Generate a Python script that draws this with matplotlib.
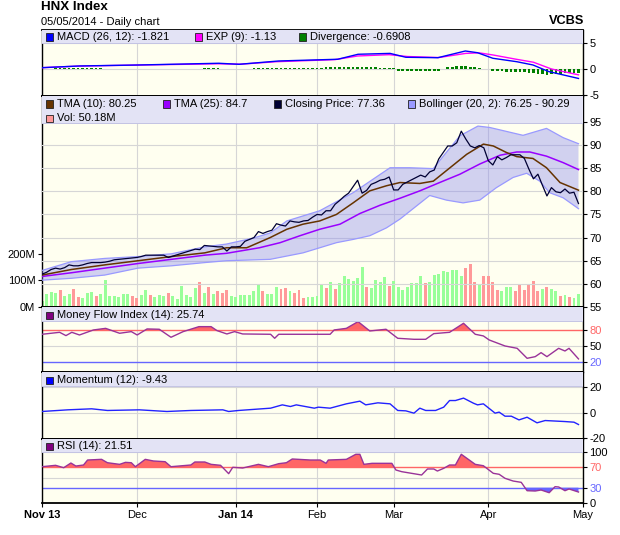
import numpy as np
import matplotlib
matplotlib.use("Agg")
import matplotlib.pyplot as plt
from matplotlib.patches import Rectangle

plt.rcParams['font.family'] = ['Liberation Sans', 'DejaVu Sans']
plt.rcParams['axes.unicode_minus'] = False

# ---- donnees ----
month_labels = ["Nov 13", "Dec", "Jan 14", "Feb", "Mar", "Apr", "May"]
month_pos = [0, 21, 43, 61, 78, 99, 120]
bold_months = ["Nov 13", "Jan 14"]

close = [62.1, 62.5, 63.1, 63.4, 63.2, 63.5, 64.1, 63.9, 63.9, 64.1,
         64.4, 64.6, 64.6, 64.6, 64.7, 64.9, 65.2, 65.3, 65.4, 65.5,
         65.6, 65.7, 65.9, 66.2, 66.2, 66.2, 66.2, 66.2, 65.7, 66.0,
         66.3, 66.6, 66.9, 67.2, 67.5, 67.4, 68.3, 68.2, 68.1, 68.0,
         68.0, 67.1, 68.0, 68.0, 68.1, 69.2, 69.6, 70.0, 71.3, 70.9,
         71.3, 71.6, 73.0, 72.7, 72.5, 73.6, 73.4, 73.3, 73.6, 73.7,
         74.4, 75.0, 74.9, 75.8, 75.8, 77.2, 78.0, 78.9, 79.6, 81.0,
         82.4, 79.6, 80.2, 81.5, 81.9, 82.4, 82.6, 83.1, 80.3, 80.3,
         81.5, 82.0, 82.5, 83.0, 83.5, 83.1, 84.2, 84.6, 87.0, 88.4,
         89.8, 89.8, 90.5, 93.0, 91.3, 89.8, 89.4, 89.9, 89.4, 86.6,
         85.7, 87.5, 86.8, 87.3, 87.9, 87.9, 87.9, 87.1, 84.8, 82.7,
         83.7, 81.3, 79.0, 80.8, 79.9, 79.7, 80.5, 79.6, 79.8, 77.36]

# volume en millions
volume = [23, 49, 58, 52, 64, 43, 49, 68, 39, 34, 54, 55, 41, 49, 102, 41, 41, 38, 49, 49,
          41, 34, 45, 64, 45, 38, 45, 41, 53, 41, 30, 79, 45, 38, 72, 94, 53, 75, 49, 60,
          53, 64, 41, 38, 45, 45, 45, 60, 82, 60, 50, 50, 75, 69, 72, 60, 54, 64, 34, 38,
          37, 41, 83, 72, 94, 69, 89, 117, 107, 98, 109, 151, 75, 72, 101, 94, 113, 79, 98, 75,
          64, 75, 89, 89, 117, 89, 94, 121, 125, 136, 132, 140, 140, 117, 148, 162, 94, 83, 117, 117,
          94, 64, 60, 75, 75, 60, 83, 64, 86, 98, 60, 68, 75, 68, 60, 41, 45, 38, 34, 50.18]
# u = hausse (vert), d = baisse (rouge)
vol_dir = ("uuuuduudduuuduuuuuuudduuduuuduuuuuudududdd"
           "uuuuuuuduuudduddduuuududuuuuuuduuuuduuuu"
           "uuuduuuuuuuudddudddduuudddddduduudud")

tma10_x = [0, 6.5, 13.9, 21.3, 28.7, 36.1, 40.9, 45.4, 50.6, 54.3, 57.9, 61.6, 65.3, 69.0,
           72.7, 76.4, 79.4, 83.8, 86.8, 90.5, 94.2, 97.9, 100.1, 103.0, 105.3, 108.9, 111.9, 114.9, 119]
tma10_y = [61.9, 63.1, 64.1, 65.0, 65.9, 66.7, 67.8, 67.8, 70.0, 71.8, 72.9, 73.6, 75.0, 77.5,
           80.1, 81.2, 81.9, 81.7, 82.2, 85.1, 88.0, 90.2, 89.8, 88.4, 87.5, 87.1, 85.1, 81.9, 80.25]

tma25_x = [0, 6.5, 13.9, 21.3, 28.7, 36.1, 40.9, 48.2, 52.8, 57.2, 61.6, 66.1, 70.5, 75.0,
           79.4, 83.8, 88.2, 92.7, 97.1, 101.6, 105.3, 108.2, 111.9, 115.6, 119]
tma25_y = [61.6, 62.4, 63.4, 64.4, 65.3, 66.2, 66.6, 67.8, 68.9, 70.4, 71.8, 72.9, 75.2, 77.0,
           78.5, 80.1, 81.9, 83.7, 85.9, 87.8, 88.5, 88.5, 87.6, 86.2, 84.7]

boll_up_x = [0, 6.5, 13.9, 21.3, 28.7, 36.1, 40.9, 46.9, 50.6, 54.3, 61.6, 69.0, 77.2, 81.6,
             86.8, 89.0, 92.7, 96.7, 99.3, 106.7, 111.9, 115.6, 119]
boll_up_y = [62.9, 64.8, 65.5, 65.9, 66.5, 68.0, 68.6, 69.9, 71.0, 73.6, 75.8, 79.7, 85.1, 85.1,
             84.9, 87.6, 92.0, 94.1, 93.8, 92.1, 93.6, 91.6, 90.29]
boll_lo_x = [0, 6.5, 13.9, 21.3, 28.7, 36.1, 40.9, 50.6, 57.9, 65.3, 69.0, 72.7, 76.4, 79.4,
             86.0, 89.7, 93.4, 97.1, 100.8, 104.5, 107.5, 110.4, 112.6, 115.6, 119]
boll_lo_y = [60.8, 61.2, 61.9, 63.4, 63.9, 64.6, 65.0, 65.3, 66.7, 68.9, 69.6, 70.4, 72.1, 74.0,
             79.1, 78.1, 77.5, 78.1, 80.8, 83.0, 83.9, 82.2, 79.7, 78.6, 76.25]

macd_x = [0, 8.3, 21.5, 39.2, 43.7, 52.5, 65.6, 70.1, 77.2, 80.7, 87.8, 93.9, 96.6, 100, 105.3,
          108.9, 112.4, 119]
macd_y = [0.25, 0.58, 0.77, 1.1, 0.9, 1.54, 1.87, 2.83, 3.0, 2.25, 2.17, 3.46, 3.13, 2.06, 1.4,
          0.77, -0.5, -1.821]
exp_x = [0, 8, 21, 39, 44, 52, 65, 70, 77, 81, 88, 94, 97, 100, 105, 109, 113, 119]
exp_y = [0.25, 0.55, 0.75, 1.0, 0.92, 1.4, 1.8, 2.5, 2.75, 2.4, 2.2, 3.0, 3.1, 2.7, 1.9, 1.3, 0.0, -1.13]
divergence = [0, 0, 0, 0.2, 0.2, 0.2, 0.2, 0.2, 0.2, 0.2, 0.2, 0.2, 0.2, 0.2, 0, 0, 0, 0, 0, 0,
              0, 0, 0, 0, 0, 0, 0, 0, 0, 0, 0, 0, 0, 0, 0, 0, 0.15, 0.15, 0.15, 0.15,
              0, 0, 0, 0, 0, 0, 0, 0.2, 0.2, 0.2, 0.2, 0.2, 0.2, 0.2, 0.2, 0.2, 0.25, 0.25, 0.25, 0.25,
              0.25, 0.25, 0.25, 0.3, 0.3, 0.3, 0.3, 0.4, 0.4, 0.4, 0.4, 0.3, 0.3, 0.3, 0.3, 0.2, 0.2, 0.2, 0.2, -0.3,
              -0.3, -0.3, -0.3, -0.3, -0.3, -0.3, -0.3, -0.3, -0.3, 0, 0.3, 0.4, 0.5, 0.6, 0.55, 0.45, 0.3, 0.1, 0, 0,
              -0.35, -0.4, -0.45, -0.5, -0.5, -0.55, -0.6, -0.65, -0.75, -0.85, -0.95, -1.05, -1.1, -1.0, -0.95, -0.9,
              -0.85, -0.8, -0.75, -0.69]

mfi_x = [0, 3.9, 5.3, 6.6, 8.3, 11.4, 14.1, 17.2, 19.8, 21.1, 23.3, 26.0, 28.6, 31.3, 34.8, 37.5,
         38.8, 41.0, 42.7, 44.5, 50.7, 51.6, 52.5, 61.3, 63.9, 64.8, 67.5, 70.1, 72.7, 76.3, 78.9,
         82.5, 85.1, 86.9, 90.4, 93.5, 96.1, 97.9, 99.2, 102.7, 105.4, 107.6, 109.4, 110.7, 112.0,
         114.6, 116.0, 116.9, 119]
mfi_y = [71.9, 75.6, 69.4, 75.6, 70.6, 80, 83, 73.8, 76.9, 70.6, 81.9, 81.3, 66.3, 76.9, 86.2, 86.2,
         78.8, 72.5, 76.9, 72.5, 71.9, 64.4, 71.9, 71.9, 71.9, 80, 83, 95.6, 78.1, 81.3, 64.4,
         62.5, 62.5, 73.1, 75.6, 92.5, 71.9, 68.8, 61.2, 50, 45.6, 26.9, 30, 37.5, 30,
         45.6, 40.6, 45.6, 25.74]

mom_x = [0, 5.7, 11.0, 14.5, 21.6, 27.7, 33.0, 40.1, 41.4, 43.6, 50.7, 53.3, 55.1, 56.4, 60.4,
         61.3, 63.9, 67.5, 70.5, 71.8, 74.5, 77.2, 78.9, 80.7, 82.5, 83.8, 85.1, 87.3, 89.1, 90.4,
         91.7, 93.5, 95.7, 96.6, 97.9, 100.5, 101.4, 102.7, 104.1, 105.8, 107.6, 109.8, 111.6,
         116.0, 118.0, 119]
mom_y = [0.8, 2.1, 2.9, 1.6, 2.1, 0.8, 1.6, 2.1, 0.8, 1.6, 3.4, 6.0, 4.7, 6.0, 3.4,
         4.2, 3.4, 6.8, 8.9, 6.0, 7.6, 6.8, 1.6, 1.3, -0.5, 3.4, 1.6, 1.6, 4.2, 9.4,
         9.4, 11.3, 7.3, 6.0, 6.8, -0.5, 0.3, -2.9, -2.9, -5.8, -3.7, -8.1, -6.3,
         -7.1, -7.6, -9.43]

rsi_x = [0, 3.0, 4.8, 6.4, 7.5, 9.2, 10.1, 13.2, 14.5, 17.2, 18.5, 19.8, 20.7, 22.9, 24.7, 27.3,
         28.6, 33.0, 33.9, 36.1, 37.5, 39.6, 41.4, 42.3, 44.5, 48.0, 50.2, 52.5, 54.2, 55.5, 59.5,
         61.7, 63.0, 63.5, 67.5, 69.6, 70.5, 71.4, 73.2, 77.6, 78.5, 79.8, 84.2, 85.5, 86.9, 87.7,
         89.1, 90.4, 91.7, 93.0, 96.1, 97.9, 100.1, 101.4, 102.7, 104.5, 106.3, 107.6, 109.4, 110.7,
         112.5, 113.8, 114.6, 116.0, 116.9, 119]
rsi_y = [71.2, 73.9, 69.2, 78.4, 72.5, 74.5, 84.3, 85.6, 79, 75.8, 79.7, 79, 71.2, 85.6, 82.4, 81,
         71.2, 74.5, 80.4, 80.4, 75.8, 73.9, 57.5, 70, 68.6, 75.8, 71.2, 77.1, 79, 86.3, 84.3,
         84.3, 77.8, 84.3, 85.6, 95.5, 95.5, 75.8, 77.8, 77.8, 64.7, 61.4, 54.9, 66.7, 66.7, 62.7,
         68, 74.5, 74.5, 95.5, 75.8, 73.1, 58.2, 56.3, 48.4, 43.1, 40.5, 24.1, 23.5, 25.5,
         20.2, 32, 31.4, 24.1, 27.5, 21.51]

# ---- mise en page (pixels de l'image 620x535) ----
W, H = 620, 535
L, R = 41.6, 583
BG = '#fffff0'
STRIP = '#e3e3f5'
GRID = '#d6d6d6'
FS = 8

fig = plt.figure(figsize=(W / 100, H / 100), dpi=100)
fig.patch.set_facecolor('white')


def panel(top, bottom, strip_px):
    ax = fig.add_axes([L / W, 1 - bottom / H, (R - L) / W, (bottom - top) / H])
    ax.set_facecolor(BG)
    ax.set_xlim(-0.1, 120)
    for s in ax.spines.values():
        s.set_color('black')
        s.set_linewidth(1.0)
    ax.spines['top'].set_linewidth(1.3)
    ax.spines['bottom'].set_linewidth(1.3)
    ax.yaxis.tick_right()
    ax.tick_params(axis='y', direction='out', length=3, width=0.8, labelsize=FS, pad=1.5)
    ax.set_xticks(month_pos)
    ax.tick_params(axis='x', length=0, labelbottom=False)
    for m in month_pos:
        ax.axvline(m, color=GRID, lw=0.8, zorder=0.5)
    # bande de legende en haut
    frac = strip_px / (bottom - top)
    ax.add_patch(Rectangle((0, 1 - frac), 1, frac, transform=ax.transAxes,
                           facecolor=STRIP, edgecolor='none', zorder=5))
    ax.plot([0, 1], [1 - frac, 1 - frac], transform=ax.transAxes, color='#c4c4e4', lw=0.7, zorder=5)
    return ax


def hgrid(ax, vals):
    for v in vals:
        ax.axhline(v, color=GRID, lw=0.8, zorder=0.5)


def legend_item(x, y, color, text):
    fig.patches.append(Rectangle((x / W, 1 - (y + 3.5) / H), 7 / W, 7 / H, transform=fig.transFigure,
                                 facecolor=color, edgecolor='#202020', lw=0.6, zorder=10))
    fig.text((x + 11) / W, 1 - y / H, text, va='center', ha='left', fontsize=FS, zorder=10)


xs = np.arange(len(close))

# ---- MACD ----
ax1 = panel(30, 96, 13)
ax1.set_ylim(-5.2, 7.5)
ax1.set_yticks([-5, 0, 5])
hgrid(ax1, [0, 5])
ax1.bar(xs, divergence, width=0.6, color='#008000', zorder=2)
ax1.plot(exp_x, exp_y, color='#ff00ff', lw=1.0, zorder=3)
ax1.plot(macd_x, macd_y, color='#0000ff', lw=1.0, zorder=3)
legend_item(46, 37, '#0000ff', "MACD (26, 12): -1.821")
legend_item(195, 37, '#ff00ff', "EXP (9): -1.13")
legend_item(299, 37, '#008000', "Divergence: -0.6908")

# ---- prix + volume ----
ax_v = panel(96, 307, 27)
ax_v.set_ylim(0, 796)
ax_v.yaxis.tick_left()
ax_v.set_yticks([0, 100, 200])
ax_v.set_yticklabels(["0M", "100M", "200M"])
vcol = ['#99ff99' if d == 'u' else '#ff9999' for d in vol_dir]
ax_v.bar(xs, volume, width=0.65, color=vcol, zorder=2)

ax2 = ax_v.twinx()
ax2.set_xlim(-0.1, 120)
ax2.set_ylim(55, 100.6)
ax2.set_yticks([55, 60, 65, 70, 75, 80, 85, 90, 95])
ax2.tick_params(axis='y', direction='out', length=3, width=0.8, labelsize=FS, pad=1.5)
for s in ax2.spines.values():
    s.set_visible(False)
hgrid(ax2, [60, 65, 70, 75, 80, 85, 90, 95])
ax2.fill(np.r_[boll_up_x, boll_lo_x[::-1]], np.r_[boll_up_y, boll_lo_y[::-1]],
         color='#8888ee', alpha=0.38, lw=0, zorder=1.5)
ax2.plot(boll_up_x, boll_up_y, color='#9999ff', lw=0.9, zorder=2)
ax2.plot(boll_lo_x, boll_lo_y, color='#9999ff', lw=0.9, zorder=2)
ax2.plot(tma25_x, tma25_y, color='#9900ff', lw=1.1, zorder=3)
ax2.plot(tma10_x, tma10_y, color='#663300', lw=1.1, zorder=3)
ax2.plot(xs, close, color='#000033', lw=0.9, zorder=4)
ax2.add_patch(Rectangle((0, 1 - 27 / 211), 1, 27 / 211, transform=ax2.transAxes,
                        facecolor=STRIP, edgecolor='none', zorder=5))
ax2.plot([0, 1], [1 - 27 / 211] * 2, transform=ax2.transAxes, color='#c4c4e4', lw=0.7, zorder=5)
legend_item(46, 104, '#663300', "TMA (10): 80.25")
legend_item(163, 104, '#9900ff', "TMA (25): 84.7")
legend_item(274, 104, '#000033', "Closing Price: 77.36")
legend_item(408, 104, '#9999ff', "Bollinger (20, 2): 76.25 - 90.29")
legend_item(46, 118, '#ff9999', "Vol: 50.18M")

# ---- Money Flow Index ----
ax3 = panel(307, 372, 14)
ax3.set_ylim(1.25, 123)
ax3.set_yticks([20, 50, 80])
hgrid(ax3, [50])
ax3.axhline(80, color='#ff6666', lw=1.0, zorder=1)
ax3.axhline(20, color='#6666ff', lw=1.0, zorder=1)
mx, my = np.array(mfi_x), np.array(mfi_y)
ax3.fill_between(mx, my, 80, where=my > 80, interpolate=True, color='#ff6666', lw=0, zorder=2)
ax3.plot(mx, my, color='#993399', lw=1.0, zorder=3)
ax3.get_yticklabels()[0].set_color('#6666ff')
ax3.get_yticklabels()[2].set_color('#ff6666')
legend_item(46, 315, '#800080', "Money Flow Index (14): 25.74")

# ---- Momentum ----
ax4 = panel(372, 439, 14)
ax4.set_ylim(-20.8, 31.8)
ax4.set_yticks([-20, 0, 20])
hgrid(ax4, [0, 20])
ax4.plot(mom_x, mom_y, color='#2222ff', lw=1.0, zorder=3)
legend_item(46, 380, '#0000ff', "Momentum (12): -9.43")

# ---- RSI ----
ax5 = panel(439, 503, 13)
ax5.set_ylim(0, 125.5)
ax5.set_yticks([0, 30, 70, 100])
hgrid(ax5, [50, 100])
ax5.axhline(70, color='#ff6666', lw=1.0, zorder=1)
ax5.axhline(30, color='#6666ff', lw=1.0, zorder=1)
rx, ry = np.array(rsi_x), np.array(rsi_y)
ax5.fill_between(rx, ry, 70, where=ry > 70, interpolate=True, color='#ff6666', lw=0, zorder=2)
ax5.fill_between(rx, ry, 30, where=ry < 30, interpolate=True, color='#6666ff', lw=0, zorder=2)
ax5.plot(rx, ry, color='#993399', lw=1.0, zorder=3)
ax5.get_yticklabels()[1].set_color('#6666ff')
ax5.get_yticklabels()[2].set_color('#ff6666')
legend_item(46, 446, '#800080', "RSI (14): 21.51")

ax5.tick_params(axis='x', length=3, width=0.8, direction='out', labelbottom=True, labelsize=FS, pad=2)
ax5.set_xticklabels(month_labels)
for t in ax5.get_xticklabels():
    if t.get_text() in bold_months:
        t.set_fontweight('bold')

# ---- titres ----
fig.text(41 / W, 1 - 7 / H, "HNX Index", fontsize=9.6, fontweight='bold', va='center', ha='left')
fig.text(41 / W, 1 - 22 / H, "05/05/2014 - Daily chart", fontsize=FS, va='center', ha='left')
fig.text(584 / W, 1 - 21.5 / H, "VCBS", fontsize=9.2, fontweight='bold', va='center', ha='right')

fig.savefig("out.png", dpi=100)
